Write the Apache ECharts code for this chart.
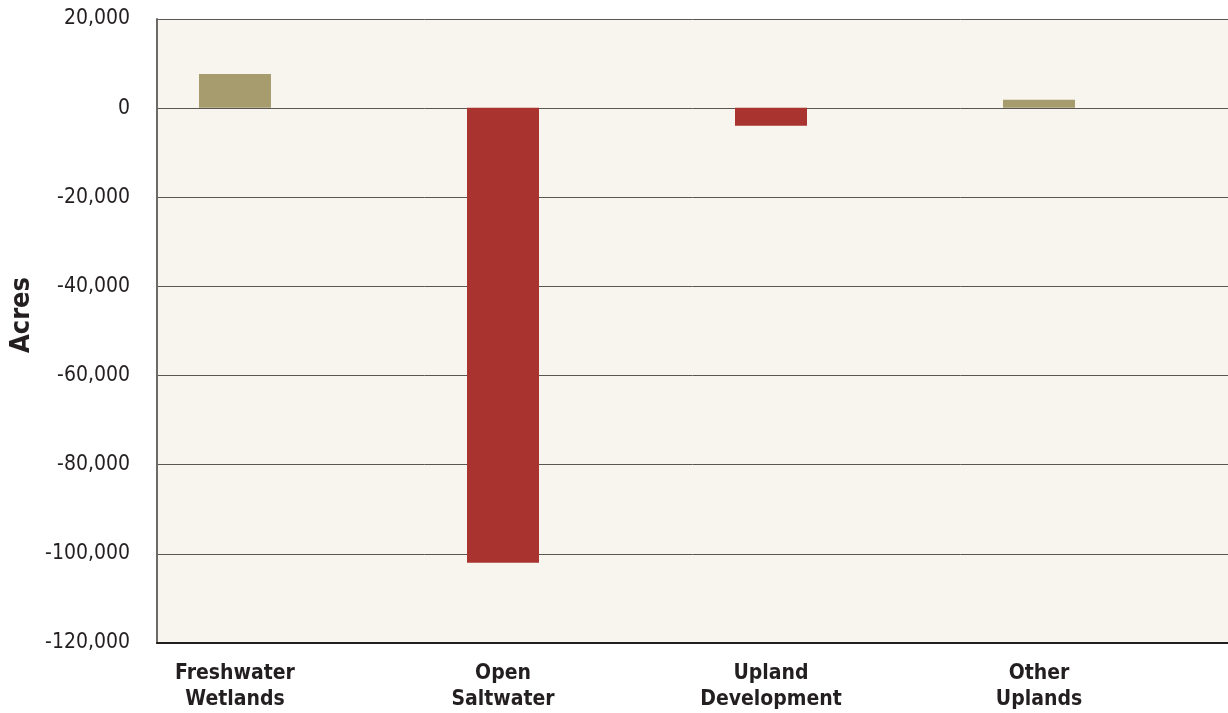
<!DOCTYPE html>
<html>
<head>
<meta charset="utf-8">
<script src="https://cdn.jsdelivr.net/npm/echarts@6/dist/echarts.min.js"></script>
<style>
html,body{margin:0;padding:0;background:#fff;}
#c{width:1228px;height:713px;}
</style>
</head>
<body>
<div id="c"></div>
<script>
const categories = ['Freshwater\nWetlands', 'Open\nSaltwater', 'Upland\nDevelopment', 'Other\nUplands'];
const acresChange = [7600, -102400, -4000, 1800];
const yTicks = { min: -120000, max: 20000, interval: 20000 };
const axisTitle = 'Acres';

const FONT = '"Liberation Sans Narrow", "DejaVu Sans Condensed", "Roboto", sans-serif';
const GAIN = '#a69c6e', LOSS = '#a8332f';

const chart = echarts.init(document.getElementById('c'), null, { renderer: 'canvas' });
chart.setOption({
  animation: false,
  backgroundColor: '#ffffff',
  grid: [
    { left: 157, right: 0, top: 19, bottom: 70, show: true, backgroundColor: '#f8f5ee', borderWidth: 0 },
    { left: 101, width: 1072, top: 19, bottom: 70 }
  ],
  xAxis: [
    { gridIndex: 0, type: 'category', data: categories, position: 'bottom',
      axisLine: { show: true, onZero: false, lineStyle: { color: '#231f20', width: 2 } },
      axisTick: { show: false }, axisLabel: { show: false }, splitLine: { show: false } },
    { gridIndex: 1, type: 'category', data: categories,
      axisLine: { show: false }, axisTick: { show: false },
      axisLabel: { margin: 20, color: '#231f20', fontFamily: FONT, fontWeight: 'bold', fontSize: 21, lineHeight: 26, interval: 0 } }
  ],
  yAxis: [
    { gridIndex: 0, type: 'value', min: yTicks.min, max: yTicks.max, interval: yTicks.interval,
      axisLine: { show: true, lineStyle: { color: '#6d6a68', width: 2 } },
      axisTick: { show: false },
      splitLine: { show: true, lineStyle: { color: '#5a5654', width: 1 } },
      axisLabel: { margin: 27, color: '#231f20', fontFamily: FONT, fontSize: 21,
        formatter: v => v.toLocaleString('en-US') } },
    { gridIndex: 1, type: 'value', min: yTicks.min, max: yTicks.max, interval: yTicks.interval, show: false }
  ],
  graphic: [
    { type: 'text', x: 22, y: 315, rotation: Math.PI / 2,
      style: { text: axisTitle, fontFamily: FONT, fontWeight: 'bold', fontSize: 27, fill: '#231f20',
        align: 'center', verticalAlign: 'middle' } }
  ],
  series: [
    { type: 'bar', xAxisIndex: 1, yAxisIndex: 1, barWidth: 72, data: acresChange,
      itemStyle: { color: p => p.value >= 0 ? GAIN : LOSS } }
  ]
});
</script>
</body>
</html>
